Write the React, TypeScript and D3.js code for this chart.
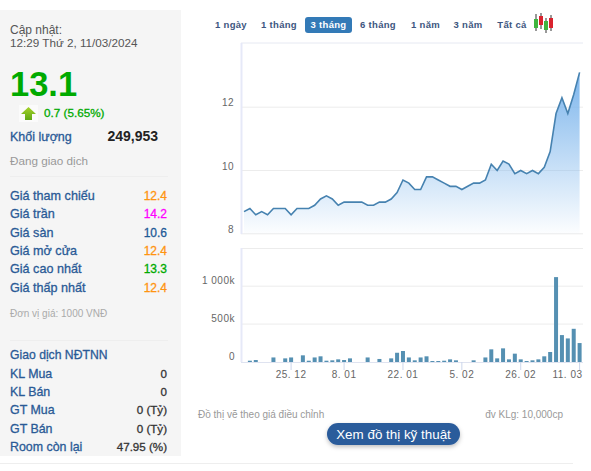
import React from "react";
import * as d3 from "d3";

const prices = [8.7,8.8,8.6,8.7,8.6,8.8,8.8,8.8,8.6,8.8,8.8,8.8,8.9,9.1,9.2,9.1,8.9,9,9,9,9,8.9,8.9,9,9,9.1,9.3,9.7,9.6,9.4,9.4,9.8,9.8,9.7,9.6,9.5,9.5,9.4,9.5,9.6,9.6,9.7,10.2,10,10.3,10.2,9.9,10,9.9,10,9.9,10.1,10.6,11.8,12.3,11.8,12.4,13.1];
const volumes = [0,17,26,0,0,60,0,48,60,0,88,17,60,75,17,22,35,26,48,0,0,60,0,40,0,48,122,145,60,22,60,75,13,13,17,35,22,0,0,22,0,60,167,48,180,35,110,35,13,22,35,75,132,1120,355,311,438,250];
const dateTicks: [number, string][] = [[8,"25. 12"],[17,"8. 01"],[27,"22. 01"],[37,"5. 02"],[47,"26. 02"],[57,"11. 03"]];
const priceTicks = [8,10,12];
const volumeTicks: [number, string][] = [[0,"0"],[500,"500k"],[1000,"1 000k"]];
const ranges = ["1 ngày","1 tháng","3 tháng","6 tháng","1 năm","3 năm","Tất cả"];
const rangeX = [231,279,328.5,378,425.5,468,512];
const priceRows: [string,string,string][] = [["Giá tham chiếu","12.4","#ff9410"],["Giá trần","14.2","#f0f"],["Giá sàn","10.6","#1f5a96"],["Giá mở cửa","12.4","#ff9410"],["Giá cao nhất","13.3","#0a0"],["Giá thấp nhất","12.4","#ff9410"]];
const foreignRows: [string,string][] = [["KL Mua","0"],["KL Bán","0"],["GT Mua","0 (Tỷ)"],["GT Bán","0 (Tỷ)"],["Room còn lại","47.95 (%)"]];
const candles: [number,number,number,number,number,string][] = [[536,14,31,19,28,"#3fb53f"],[541,13,29,16,25,"#d9232e"],[546,18,33,21,30,"#3fb53f"],[551,15,31,18,28,"#d9232e"]];

const FONT = "'Liberation Sans', Arial, sans-serif";
const BLUE = "#2a5a96";
const heavy = (c: string) => ({ stroke: c, strokeWidth: 0.3 });

export default function App() {
  const x = d3.scaleLinear().domain([0, 57]).range([244, 579.6]);
  const y = d3.scaleLinear().domain([8, 12]).range([233.8, 107.2]);
  const yv = d3.scaleLinear().domain([0, 1000]).range([362, 286.2]);
  const line = d3.line<number>().x((_, i) => x(i)).y(d => y(d));
  const area = d3.area<number>().x((_, i) => x(i)).y0(233.8).y1(d => y(d));
  return (
    <svg width={591} height={471} style={{ position: "absolute", left: 0, top: 0, fontFamily: FONT }}>
      <defs>
        <linearGradient id="a" x1="0" y1="0" x2="0" y2="1">
          <stop offset="0" stopColor="#7cb5ec" />
          <stop offset="1" stopColor="#7cb5ec" stopOpacity={0.02} />
        </linearGradient>
        <linearGradient id="g" x1="0" y1="0" x2="0" y2="1">
          <stop offset="0" stopColor="#a6d22a" />
          <stop offset="1" stopColor="#5fa814" />
        </linearGradient>
        <filter id="s" x="-10%" y="-30%" width="120%" height="170%">
          <feDropShadow dx="0" dy="2" stdDeviation="2" floodColor="#000" floodOpacity="0.25" />
        </filter>
      </defs>
      <rect x={0} y={10} width={181} height={446} fill="#f5f5f5" />
      <text x={10} y={34} fontSize={12} fill="#555">Cập nhật:</text>
      <text x={10} y={47} fontSize={11.7} fill="#555">12:29 Thứ 2, 11/03/2024</text>
      <text x={10} y={96} fontSize={34.5} fontWeight="bold" fill="#0a0">13.1</text>
      <rect x={19} y={105} width={19} height={17} fill="#fbfbfb" />
      <path d="M28.5 107 L36 114 L32 114 L32 120 L25 120 L25 114 L21 114 Z" fill="url(#g)" />
      <text x={44} y={117} fontSize={11.7} fill="#0a0" {...heavy("#0a0")}>0.7 (5.65%)</text>
      <text x={10} y={141} fontSize={12.5} fill={BLUE} {...heavy(BLUE)}>Khối lượng</text>
      <text x={158} y={141} fontSize={14} fontWeight="bold" fill="#222" textAnchor="end">249,953</text>
      <text x={10} y={165} fontSize={11.7} fill="#999">Đang giao dịch</text>
      <line x1={10} x2={168} y1={176.5} y2={176.5} stroke="#eee" />
      {priceRows.map(([k, v, c], i) => (
        <g key={k}>
          <text x={10} y={200 + i * 18.3} fontSize={12.6} fill={BLUE} {...heavy(BLUE)}>{k}</text>
          <text x={167} y={200 + i * 18.3} fontSize={12} fill={c} textAnchor="end" {...heavy(c)}>{v}</text>
        </g>
      ))}
      <text x={10} y={317} fontSize={10} fill="#aaa">Đơn vị giá: 1000 VNĐ</text>
      <line x1={10} x2={168} y1={340.5} y2={340.5} stroke="#eee" />
      <text x={10} y={359} fontSize={12.2} fill={BLUE} {...heavy(BLUE)}>Giao dịch NĐTNN</text>
      {foreignRows.map(([k, v], i) => (
        <g key={k}>
          <text x={10} y={378 + i * 18.2} fontSize={12.4} fill={BLUE} {...heavy(BLUE)}>{k}</text>
          <text x={167} y={378 + i * 18.2} fontSize={11.6} fill="#333" textAnchor="end" {...heavy("#333")}>{v}</text>
        </g>
      ))}
      <rect x={305} y={17} width={47} height={16} rx={3} fill="#337ab7" />
      {ranges.map((r, i) => (
        <text key={r} x={rangeX[i]} y={28} fontSize={9.5} fontWeight="bold" textAnchor="middle" letterSpacing={0.3} fill={i === 2 ? "#fff" : "#3d5680"}>{r}</text>
      ))}
      {candles.map(([cx, w0, w1, b0, b1, c], i) => (
        <g key={i}>
          <line x1={cx} x2={cx} y1={w0} y2={w1} stroke="#333" />
          <rect x={cx - 2} y={b0} width={4} height={b1 - b0} fill={c} />
        </g>
      ))}
      <line x1={241} x2={583} y1={43} y2={43} stroke="#e6e9f2" />
      {priceTicks.map(t => (
        <g key={t}>
          <line x1={241} x2={583} y1={y(t)} y2={y(t)} stroke="#ececec" />
          <text x={234} y={y(t) - 1} fontSize={10} fill="#666" textAnchor="end" letterSpacing={0.5}>{t}</text>
        </g>
      ))}
      <path d={area(prices) ?? ""} fill="url(#a)" />
      <path d={line(prices) ?? ""} fill="none" stroke="#4682b0" strokeWidth={1.6} />
      <line x1={241.5} x2={241.5} y1={43} y2={234} stroke="#e6e9f8" strokeWidth={2} />

      <line x1={241} x2={583} y1={248.5} y2={248.5} stroke="#ececec" />
      {volumeTicks.slice(1).map(([t]) => (
        <line key={t} x1={241} x2={583} y1={yv(t)} y2={yv(t)} stroke="#ececec" />
      ))}
      {volumeTicks.map(([t, l]) => (
        <text key={t} x={235} y={yv(t) - 2} fontSize={10} fill="#666" textAnchor="end" letterSpacing={0.5}>{l}</text>
      ))}
      {volumes.map((v, i) => v > 0 && (
        <rect key={i} x={x(i) - 2} width={4} y={yv(v)} height={yv(0) - yv(v)} fill="#5590b2" />
      ))}
      <line x1={241.5} x2={241.5} y1={248} y2={362} stroke="#e6e9f8" strokeWidth={2} />
      <line x1={241} x2={583} y1={362.5} y2={362.5} stroke="#dfe3f0" />
      {dateTicks.map(([i, l]) => (
        <g key={i}>
          <line x1={x(i)} x2={x(i)} y1={362} y2={370} stroke="#ccd6eb" />
          <text x={i === 57 ? 582.5 : x(i)} y={378} fontSize={10} fill="#666" textAnchor={i === 57 ? "end" : "middle"} letterSpacing={0.5}>{l}</text>
        </g>
      ))}
      <text x={198} y={418} fontSize={10} fill="#999">Đồ thị vẽ theo giá điều chỉnh</text>
      <text x={563} y={418} fontSize={10} fill="#999" textAnchor="end">đv KLg: 10,000cp</text>
      <rect x={327} y={423} width={133} height={22} rx={11} fill="#2b5c9b" filter="url(#s)" />
      <text x={393.5} y={439} fontSize={13.4} fill="#fff" textAnchor="middle">Xem đồ thị kỹ thuật</text>
      <line x1={0} x2={573} y1={463.5} y2={463.5} stroke="#eee" />
    </svg>
  );
}
